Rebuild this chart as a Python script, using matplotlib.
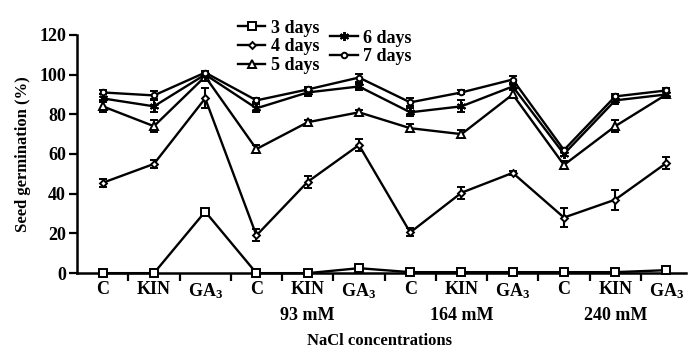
import numpy as np
import matplotlib
matplotlib.use("Agg")
import matplotlib.pyplot as plt
from matplotlib.lines import Line2D

plt.rcParams['font.family'] = ['Liberation Serif', 'DejaVu Serif']
plt.rcParams['font.weight'] = 'bold'
plt.rcParams['axes.labelweight'] = 'bold'
plt.rcParams['mathtext.default'] = 'regular'

categories = ['C', 'KIN', 'GA$_{3}$'] * 4
groups = ['', '93 mM', '164 mM', '240 mM']

d3 = [0, 0, 31, 0, 0, 2.5, 0.5, 0.5, 0.5, 0.5, 0.5, 1.5]
d3_err = [0.5, 0.5, 1, 0.5, 0.5, 1, 0.5, 0.5, 0.5, 0.5, 0.5, 1]
d4 = [45.5, 55, 88, 19, 46, 64.5, 20.5, 40.5, 50.5, 28, 37, 55.5]
d4_err = [2, 2, 5, 3, 3, 3, 2, 3, 1, 5, 5, 3]
d5 = [84, 74, 99, 62.5, 76, 81, 73, 70, 90, 54.5, 74, 90]
d5_err = [3, 3, 1, 2, 1, 1, 2, 2, 2, 2, 3, 2]
d6 = [88, 84, 100, 83, 91, 94, 81, 84, 94, 60, 87, 90]
d6_err = [2, 3, 1, 2, 2, 2, 2, 3, 2, 1, 2, 2]
d7 = [91, 89.5, 101, 87, 92.5, 98.5, 86, 91, 97.5, 62, 89, 92]
d7_err = [1, 2, 1, 1, 1, 2, 2, 1, 2, 1, 1, 1]

series = [
    ('3 days', d3, d3_err, 's', 5.5),
    ('4 days', d4, d4_err, 'D', 3.5),
    ('5 days', d5, d5_err, '^', 5.5),
    ('6 days', d6, d6_err, (6, 2, 0), 6.5),
    ('7 days', d7, d7_err, 'o', 4),
]

fig = plt.figure(figsize=(6.88, 3.52), dpi=100)
ax = fig.add_axes([0.112, 0.224, 0.885, 0.677])

x = np.arange(len(categories))
handles = []
for name, vals, err, mk, ms in series:
    ax.errorbar(x, vals, yerr=err, color='black', lw=1.7, marker=mk, ms=ms,
                mfc='white', mec='black', mew=1.4, capsize=3, capthick=1.8,
                elinewidth=1.5, clip_on=False, zorder=3)
    handles.append(Line2D([], [], color='black', lw=1.7, marker=mk, ms=ms,
                          mfc='white', mec='black', mew=1.4))

ax.set_xlim(-0.5, 11.38)
ax.set_ylim(0, 120)
ax.set_yticks([0, 20, 40, 60, 80, 100, 120])
ax.set_xticks(x)
ax.set_xticklabels(categories)
ax.set_xticks(np.arange(0.5, 11, 1), minor=True)
ax.tick_params(axis='x', which='major', length=0, pad=6, labelsize=13)
ax.tick_params(axis='x', which='minor', length=6, width=1.6, direction='out')
ax.tick_params(axis='y', length=6, width=1.6, labelsize=13, pad=2)
for s in ['top', 'right']:
    ax.spines[s].set_visible(False)
for s in ['left', 'bottom']:
    ax.spines[s].set_linewidth(1.8)

for i, g in enumerate(groups):
    if g:
        ax.text(3 * i + 1, -0.176, g, transform=ax.get_xaxis_transform(),
                ha='center', va='center', fontsize=13)

ax.set_ylabel('Seed germination (%)', fontsize=12, labelpad=6)
ax.text(5.4, -0.285, 'NaCl concentrations', transform=ax.get_xaxis_transform(),
        ha='center', va='center', fontsize=12)

fig.legend(handles[:3], [s[0] for s in series[:3]], loc='upper left',
           bbox_to_anchor=(0.328, 0.98), frameon=False, fontsize=13,
           handlelength=1.5, handletextpad=0.3, labelspacing=0.1,
           borderpad=0.2)
fig.legend(handles[3:], [s[0] for s in series[3:]], loc='upper left',
           bbox_to_anchor=(0.462, 0.952), frameon=False, fontsize=13,
           handlelength=1.5, handletextpad=0.3, labelspacing=0.1,
           borderpad=0.2)

fig.savefig('out.png', dpi=100)
